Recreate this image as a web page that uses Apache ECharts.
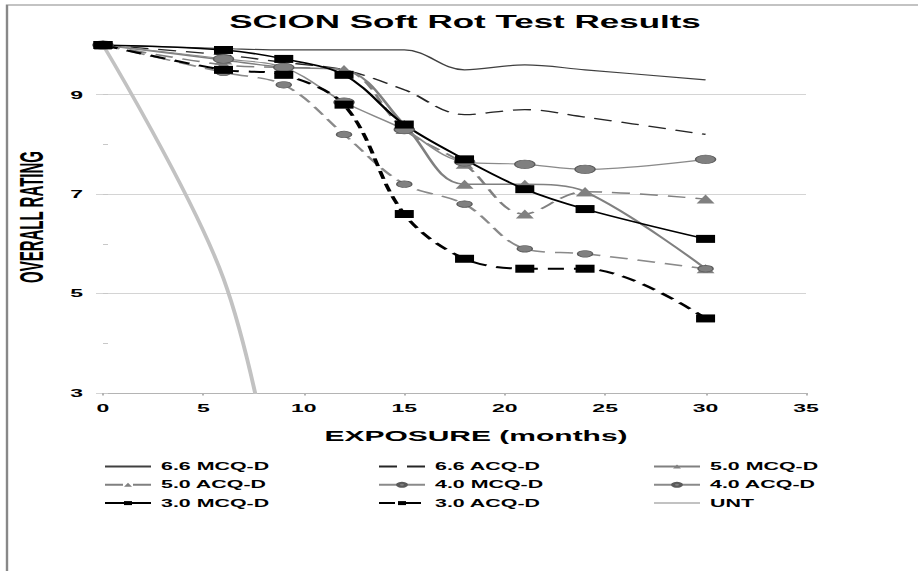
<!DOCTYPE html>
<html><head><meta charset="utf-8">
<script src="https://cdn.jsdelivr.net/npm/echarts@6.0.0/dist/echarts.min.js"></script>
<style>
html,body{margin:0;padding:0;background:#fff;overflow:hidden;width:918px;height:571px}
#c{width:459px;height:571px;transform:scaleX(2);transform-origin:0 0;}
</style>
</head><body><div id="c"></div>
<script>
// ---- data ----
var months = [0, 6, 9, 12, 15, 18, 21, 24, 30];
var mcq66 = [10, 9.93, 9.9, 9.9, 9.9, 9.5, 9.6, 9.5, 9.3];
var acq66 = [10, 9.8, 9.65, 9.5, 9.1, 8.6, 8.7, 8.55, 8.2];
var mcq50 = [10, 9.7, 9.55, 9.5, 8.4, 7.2, 7.2, 7.05, 5.5];
var acq50 = [10, 9.6, 9.55, 9.5, 8.3, 7.6, 6.6, 7.05, 6.9];
var mcq40 = [10, 9.72, 9.55, 8.85, 8.3, 7.65, 7.6, 7.5, 7.7];
var acq40 = [10, 9.45, 9.2, 8.2, 7.2, 6.8, 5.9, 5.8, 5.5];
var mcq30 = [10, 9.9, 9.72, 9.4, 8.4, 7.7, 7.1, 6.7, 6.1];
var acq30 = [10, 9.5, 9.4, 8.8, 6.6, 5.7, 5.5, 5.5, 4.5];
var untMonths = [0, 6, 9];
var unt = [10, 5.3, 0];
var seriesNames = ['6.6 MCQ-D','6.6 ACQ-D','5.0 MCQ-D','5.0 ACQ-D','4.0 MCQ-D','4.0 ACQ-D','3.0 MCQ-D','3.0 ACQ-D','UNT'];
var xTickLabels = [0, 5, 10, 15, 20, 25, 30, 35];
var yTickLabels = [3, 5, 7, 9];
var titleText = 'SCION Soft Rot Test Results';
var xTitle = 'EXPOSURE (months)';
var yTitle = 'OVERALL RATING';

var FONT = "'Liberation Sans', Arial, sans-serif";
function pairs(xs, ys){ return xs.map(function(x,i){ return [x, ys[i]]; }); }

function mk(name, xs, ys, o){
  return {
    name: name, type: 'line', data: pairs(xs, ys), smooth: 0.35,
    symbol: o.symbol || 'none', symbolSize: o.size || 8, showSymbol: !!o.symbol,
    lineStyle: {color: o.color, width: o.width, type: o.dash || 'solid'},
    itemStyle: {color: o.fill || o.color, borderColor: o.border || o.fill || o.color, borderWidth: o.bw || 0},
    z: o.z || 2, animation: false
  };
}

var series = [
  mk(seriesNames[8], untMonths, unt, {color:'#c2c2c2', width:2, z:1}),
  mk(seriesNames[0], months, mcq66, {color:'#404040', width:1.2}),
  mk(seriesNames[1], months, acq66, {color:'#262626', width:1.3, dash:[9,5]}),
  mk(seriesNames[2], months, mcq50, {color:'#808080', width:1.5, symbol:'triangle', size:[9,9]}),
  mk(seriesNames[3], months, acq50, {color:'#808080', width:1.5, dash:[9,5], symbol:'triangle', size:[9,9]}),
  mk(seriesNames[4], months, mcq40, {color:'#8a8a8a', width:1.2, symbol:'circle', size:[10,8.5], fill:'#808080', border:'#5a5a5a', bw:0.7}),
  mk(seriesNames[5], months, acq40, {color:'#8a8a8a', width:1.5, dash:[9,5], symbol:'circle', size:[7.5,6.5], fill:'#808080', border:'#5a5a5a', bw:0.7}),
  mk(seriesNames[6], months, mcq30, {color:'#000000', width:1.5, symbol:'rect', size:[9.5,8]}),
  mk(seriesNames[7], months, acq30, {color:'#000000', width:2, dash:[8,5], symbol:'rect', size:[9.5,8]})
];

var noMarker = {'6.6 MCQ-D': true, '6.6 ACQ-D': true, 'UNT': true};
function legendCol(names, left){
  return {
    data: names.map(function(n){
      return noMarker[n] ? {name: n, itemStyle: {color: 'rgba(0,0,0,0)', borderColor: 'rgba(0,0,0,0)', borderWidth: 0}} : {name: n};
    }),
    orient: 'vertical', left: left, top: 460.5,
    itemWidth: 23, itemHeight: 5, itemGap: 6.3, padding: 0,
    selectedMode: false,
    textStyle: {fontSize: 10.7, lineHeight: 12, fontWeight: 'bold', color: '#000', fontFamily: FONT, padding: [0,0,0,0]}
  };
}

var chart = echarts.init(document.getElementById('c'), null, {renderer: 'svg'});
chart.setOption({
  animation: false,
  backgroundColor: '#fff',
  grid: {left: 51.5, right: 56, top: 45, bottom: 178},
  xAxis: {
    type: 'value', min: 0, max: 35, interval: 5,
    axisLine: {show: true, lineStyle: {color: '#b4b4b4', width: 1}},
    axisTick: {show: true, length: 2.5, lineStyle: {color: '#b4b4b4'}},
    splitLine: {show: false},
    axisLabel: {margin: 9, fontSize: 11.5, fontWeight: 'bold', color: '#000', fontFamily: FONT,
      formatter: function(v){ return xTickLabels.indexOf(v) >= 0 ? String(v) : ''; }}
  },
  yAxis: [{
    type: 'value', min: 3, max: 10, interval: 1,
    axisLine: {show: false},
    axisTick: {show: true, inside: true, length: 2.5, lineStyle: {color: '#c8c8c8'}},
    splitLine: {show: true, lineStyle: {color: ['#d4d4d4', 'rgba(0,0,0,0)'], width: 1}},
    axisLabel: {margin: 10, fontSize: 11.5, fontWeight: 'bold', color: '#000', fontFamily: FONT,
      formatter: function(v){ return yTickLabels.indexOf(v) >= 0 ? String(v) : ''; }}
  }, {
    type: 'value', min: 3, max: 10, interval: 2, position: 'left',
    axisLine: {show: false}, axisLabel: {show: false}, splitLine: {show: false},
    axisTick: {show: true, length: 3.5, lineStyle: {color: '#d4d4d4'}}
  }],
  legend: [
    legendCol([seriesNames[0], seriesNames[3], seriesNames[6]], 51.5),
    legendCol([seriesNames[1], seriesNames[4], seriesNames[7]], 188.5),
    legendCol([seriesNames[2], seriesNames[5], seriesNames[8]], 326)
  ],
  graphic: [
    {type: 'rect', silent: true, z: -10, shape: {x: 3.5, y: 5, width: 700, height: 700},
     style: {fill: 'none', stroke: '#888', lineWidth: 1.2}},
    {type: 'text', x: 232.5, y: 22, silent: true,
     style: {text: titleText, fontSize: 17.5, fontWeight: 'bold', fontFamily: FONT, fill: '#000', textAlign: 'center', textVerticalAlign: 'middle'}},
    {type: 'text', x: 238, y: 436, silent: true,
     style: {text: xTitle, fontSize: 15, fontWeight: 'bold', fontFamily: FONT, fill: '#000', textAlign: 'center', textVerticalAlign: 'middle'}},
    {type: 'text', x: 15.5, y: 217, rotation: Math.PI / 2, scaleX: 0.91, silent: true,
     style: {text: yTitle, fontSize: 16.5, fontWeight: 'bold', fontFamily: "'Liberation Sans Narrow', 'Arial Narrow', " + FONT, fill: '#000', textAlign: 'center', textVerticalAlign: 'middle'}}
  ],
  series: series
});
</script></body></html>
